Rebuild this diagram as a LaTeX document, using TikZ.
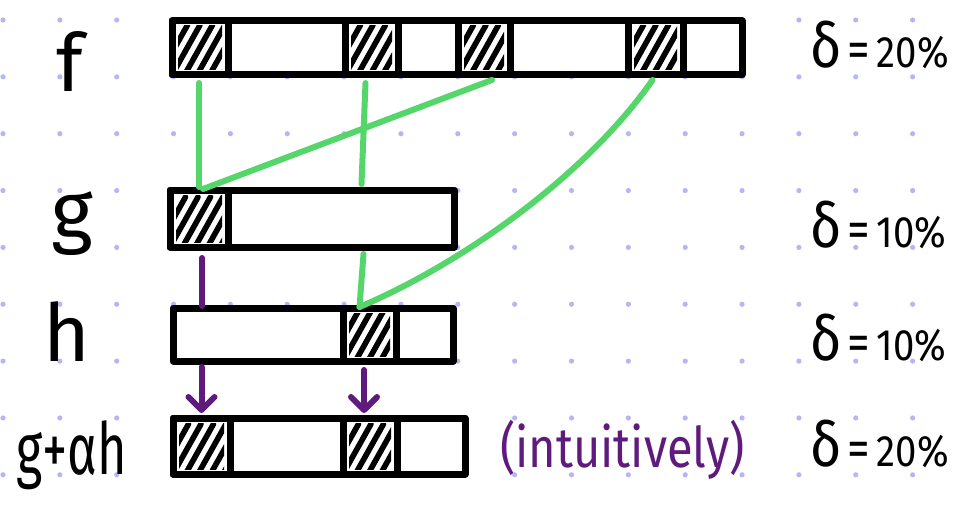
\documentclass[tikz,border=0pt]{standalone}
\usepackage{fontspec}
\setmainfont{Fira Sans}
\usetikzlibrary{arrows.meta,calc}
\definecolor{dotblue}{HTML}{B6B6F6}
\definecolor{linkgreen}{HTML}{55D66B}
\definecolor{plum}{HTML}{5E1A7D}

\tikzset{
  bar/.style={draw=black, line width=7pt, line join=round, rectangle,
    inner sep=0pt, outer sep=0pt},
  hatch/.style={bar, path picture={
    \begin{scope}
      \clip ([shift={(6pt,5pt)}]path picture bounding box.south west)
        rectangle ([shift={(-6pt,-5pt)}]path picture bounding box.north east);
      \foreach \k in {-3,...,5}
        \draw[line width=5.6pt, line cap=round]
          ([xshift=\k*12.5pt]path picture bounding box.south west) -- ++(28pt,50pt);
    \end{scope}}},
  link/.style={linkgreen, line width=6pt, line cap=round, line join=round},
  map/.style={plum, line width=6pt, line cap=round},
  push/.style={map, -{Straight Barb[length=13pt,width=26pt,round]}},
  lbl/.style={font=\fontsize{80}{80}\selectfont, anchor=base, inner sep=0pt},
  dl/.style={font=\fontsize{44}{44}\selectfont, anchor=base west, inner sep=0pt},
  note/.style={font=\fontsize{56}{56}\selectfont, text=plum, anchor=base west, inner sep=0pt}
}
\newcommand\dens[1]{\scalebox{0.87}[1]{{\fontsize{62}{62}\selectfont δ}\,{\fontsize{52}{52}\selectfont =}\,#1\%}}

\begin{document}
\begin{tikzpicture}[x=1pt,y=-1pt]
  \fill[white] (0,0) rectangle (960,505);
  \useasboundingbox (0,0) rectangle (960,505);

  % dotted paper
  \foreach \i in {0,...,16}
    \foreach \j in {0,...,8}
      \fill[dotblue] ({3+56.85*\i},{20+56.85*\j}) circle (2.6pt);

  % bars
  \node[bar, minimum width=570pt, minimum height=54pt] (fbar) at (457,48) {};
  \node[bar, minimum width=284pt, minimum height=57pt] (gbar) at (312,218.5) {};
  \node[bar, minimum width=280pt, minimum height=53pt] (hbar) at (313,334.5) {};
  \node[bar, minimum width=292pt, minimum height=56pt] (sbar) at (319,446) {};

  % hatched cells
  \node[hatch, minimum width=56pt, minimum height=54pt] (f1) at (200,48) {};
  \node[hatch, minimum width=53pt, minimum height=54pt] (f2) at (371.5,48) {};
  \node[hatch, minimum width=52pt, minimum height=54pt] (f3) at (484,48) {};
  \node[hatch, minimum width=55pt, minimum height=54pt] (f4) at (655.5,48) {};
  \node[hatch, minimum width=58pt, minimum height=57pt] (g1) at (199,218.5) {};
  \node[hatch, minimum width=53pt, minimum height=53pt] (h2) at (369.5,334.5) {};
  \node[hatch, minimum width=57pt, minimum height=56pt] (s1) at (201.5,446) {};
  \node[hatch, minimum width=54pt, minimum height=56pt] (s2) at (370,446) {};

  % green links
  \draw[link] ($(f1.south)+(-1,8)$) -- ($(g1.north)+(0,-3)$);
  \draw[link] ($(f2.south)+(-6,8)$) -- ($(f2.south |- gbar.north)+(-10,-6)$);
  \draw[link] ($(f3.south)+(8,5)$) -- ($(g1.north)+(4,-1)$);
  \draw[link] ($(f4.south)+(-3,5)$) .. controls (590,170) and (470,260) .. ($(h2.north)+(-10,-1)$);
  \draw[link] ($(h2.north |- gbar.south)+(-6,7)$) -- ($(h2.north)+(-10,-1)$);

  % purple links
  \draw[map] ($(g1.south)+(3,11)$) -- ($(g1.south |- hbar.north)+(3,-2)$);
  \draw[push] ($(s1.north |- hbar.south)+(0,6)$) -- ($(s1.north)+(0,-5)$);
  \draw[push] ($(s2.north |- hbar.south)+(-6,9)$) -- ($(s2.north)+(-6,-5)$);

  % row labels
  \node[lbl] (lf) at (70,92) {f};
  \node[lbl] (lg) at (72,238) {g};
  \node[lbl] (lh) at (67,361) {h};
  \node[lbl, font=\fontsize{72}{72}\selectfont] (ls) at (72,474) {\scalebox{0.7}[1]{g+αh}};

  % densities
  \node[dl] (df) at (810,68) {\dens{20}};
  \node[dl] (dg) at (810,247) {\dens{10}};
  \node[dl] (dh) at (810,360) {\dens{10}};
  \node[dl] (ds) at (810,466) {\dens{20}};

  \node[note] (iv) at (500,467) {\scalebox{0.84}[1]{(intuitively)}};
\end{tikzpicture}
\end{document}
